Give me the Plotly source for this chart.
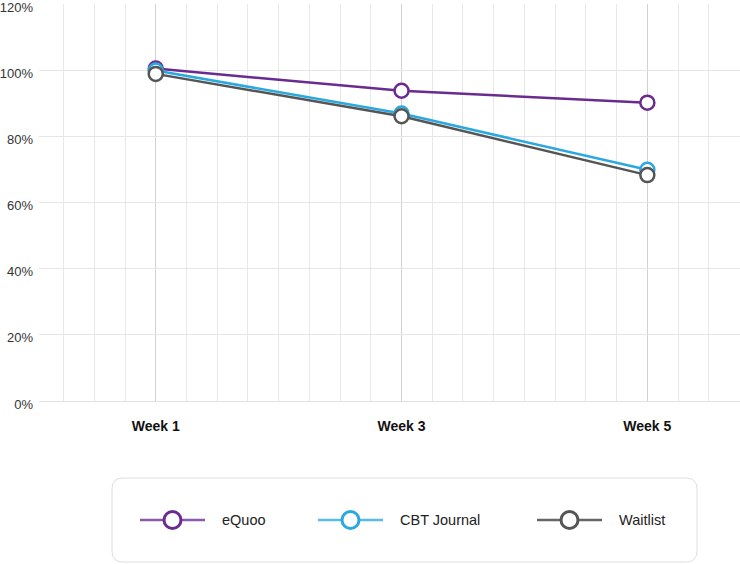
import plotly.graph_objects as go

# ---- data ----
weeks = [1, 3, 5]
week_labels = ["Week 1", "Week 3", "Week 5"]
equoo = [100.5, 93.8, 90.2]
cbt_journal = [99.9, 86.9, 69.9]
waitlist = [98.9, 86.1, 68.3]
series_names = ["eQuoo", "CBT Journal", "Waitlist"]
y_ticks = [0, 20, 40, 60, 80, 100, 120]

colors = ["#6a2b90", "#29a9e0", "#555555"]
legend_line_colors = ["rgba(106,43,144,0.78)", "rgba(41,169,224,0.78)", "rgba(85,85,85,0.9)"]

W, H = 740, 564
ML, MR, MT, MB = 39, 0, 4, 163
PW, PH = W - ML - MR, H - MT - MB

def px(x):
    return (x - ML) / PW

def py(y):
    return (H - MB - y) / PH

fig = go.Figure()
for name, vals, c in zip(series_names, [equoo, cbt_journal, waitlist], colors):
    fig.add_trace(go.Scatter(
        x=weeks, y=[v / 100 for v in vals], name=name, mode="lines+markers",
        line=dict(color=c, width=2.5),
        marker=dict(size=14, color="white", line=dict(color=c, width=2.5)),
        cliponaxis=False, showlegend=False,
    ))

shapes = []
annotations = []

# legend box with rounded corners
x0, x1, y0, y1 = 112, 697, 478, 562
r = 11
rx, ry = r / PW, r / PH
X0, X1, Y0, Y1 = px(x0), px(x1), py(y1), py(y0)
path = (f"M{X0+rx},{Y0} L{X1-rx},{Y0} Q{X1},{Y0} {X1},{Y0+ry} "
        f"L{X1},{Y1-ry} Q{X1},{Y1} {X1-rx},{Y1} L{X0+rx},{Y1} "
        f"Q{X0},{Y1} {X0},{Y1-ry} L{X0},{Y0+ry} Q{X0},{Y0} {X0+rx},{Y0} Z")
shapes.append(dict(type="path", path=path, xref="paper", yref="paper",
                   line=dict(color="#dedede", width=1), fillcolor="white", layer="above"))

item_starts = [140, 318, 537]
text_starts = [220, 398, 617]
ly = 520
cr = 8.5
for name, c, lc, s, t in zip(series_names, colors, legend_line_colors, item_starts, text_starts):
    shapes.append(dict(type="line", xref="paper", yref="paper",
                       x0=px(s), x1=px(s + 65), y0=py(ly), y1=py(ly),
                       line=dict(color=lc, width=2.5), layer="above"))
    cx = s + 32.5
    shapes.append(dict(type="circle", xref="paper", yref="paper",
                       x0=px(cx - cr), x1=px(cx + cr), y0=py(ly + cr), y1=py(ly - cr),
                       line=dict(color=c, width=3), fillcolor="white", layer="above"))
    annotations.append(dict(text=name, xref="paper", yref="paper", x=px(t), y=py(ly),
                            xanchor="left", yanchor="middle", showarrow=False,
                            font=dict(size=14.5, color="#222222")))

fig.update_layout(
    width=W, height=H,
    margin=dict(l=ML, r=MR, t=MT, b=MB),
    paper_bgcolor="white", plot_bgcolor="white",
    font=dict(family="Liberation Sans, Arial, sans-serif", color="#333333"),
    shapes=shapes, annotations=annotations,
    xaxis=dict(
        range=[0.05, 5.754], tickmode="array", tickvals=weeks, ticktext=week_labels,
        showgrid=True, gridcolor="#d2d2d2", gridwidth=1, zeroline=False, showline=False,
        ticks="", ticklabelstandoff=15, automargin=False,
        tickfont=dict(size=14, color="#111111", family="Liberation Sans, Arial, sans-serif", weight="bold"),
        minor=dict(tickmode="linear", tick0=0, dtick=0.25, showgrid=True, gridcolor="#e8e8e8", gridwidth=1, ticks=""),
    ),
    yaxis=dict(
        range=[0, 1.2003], tickmode="array", tickvals=[v / 100 for v in y_ticks],
        ticktext=[f"{v}%" for v in y_ticks],
        showgrid=True, gridcolor="#e6e6e6", gridwidth=1,
        zeroline=True, zerolinecolor="#e2e2e2", zerolinewidth=1, showline=False,
        ticks="", ticklabelstandoff=5, ticklabelshift=3, ticklabeloverflow="allow", automargin=False,
        tickfont=dict(size=13, color="#333333"),
    ),
)

fig.write_html("out.html", config={"displayModeBar": False},
               post_script="document.body.style.margin='0';document.body.style.overflow='hidden';")
